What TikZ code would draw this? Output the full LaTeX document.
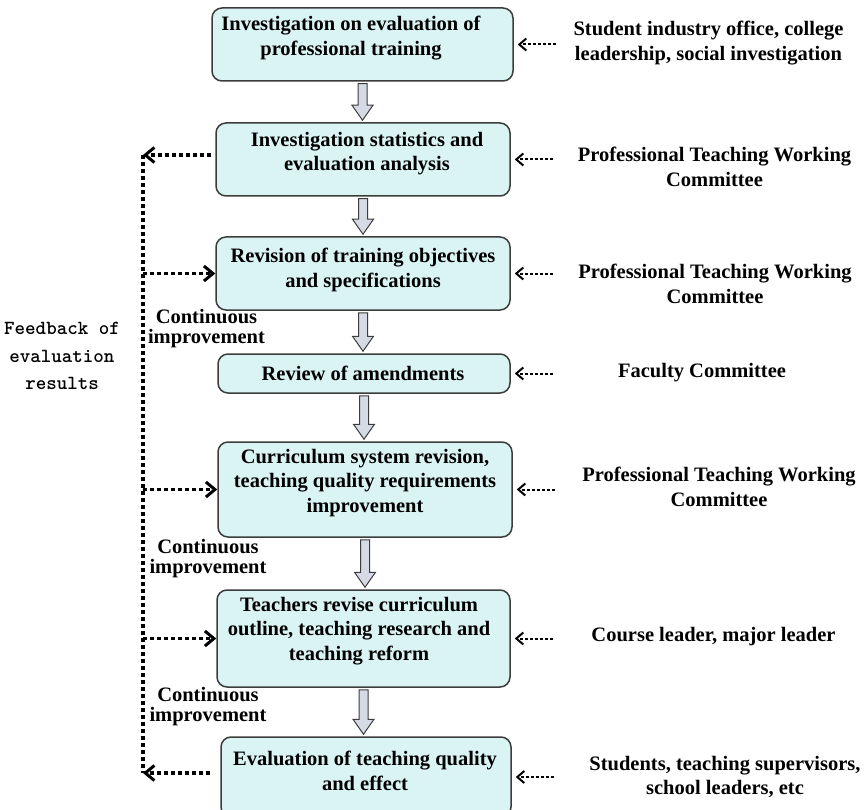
\documentclass[tikz,border=0pt]{standalone}
\usepackage{fontspec}
\setmainfont{Liberation Serif}
\usetikzlibrary{arrows.meta,calc}

\definecolor{boxfill}{RGB}{218,244,244}
\definecolor{boxline}{RGB}{60,60,60}
\definecolor{arrowfill}{RGB}{214,218,228}

\tikzset{
  stage/.style={draw=boxline, fill=boxfill, line width=1.5pt, rounded corners=10pt},
  stagetext/.style={font=\bfseries\fontsize{20.5}{24.5}\selectfont, align=center, inner sep=0pt},
  source/.style={font=\bfseries\fontsize{20.5}{24.5}\selectfont, align=center, inner sep=0pt},
  note/.style={font=\bfseries\fontsize{20.5}{20}\selectfont, align=center, inner sep=0pt},
  fbtext/.style={font=\ttfamily\bfseries\fontsize{20}{27.5}\selectfont, align=center, inner sep=0pt},
  blockarrow/.style={draw=boxline, fill=arrowfill, line width=1pt, line join=miter},
  srcarrow/.style={-{Straight Barb[length=7pt,width=12pt,line width=2pt]}, line width=2pt, dash pattern=on 2.5pt off 2.5pt},
  fbline/.style={line width=4pt, dash pattern=on 4pt off 3pt},
  fbarrow/.style={-{Straight Barb[length=9pt,width=15pt,line width=3pt]}, line width=3.5pt, dash pattern=on 4pt off 3pt},
}

% hollow down arrow between two stages
\newcommand{\stagearrow}[2]{%
  \draw[blockarrow] let \p1=(#1.south), \p2=(#2.north) in
    (\x1-4.5pt,\y1-2pt) -- (\x1-4.5pt,\y2+17pt) -- (\x1-10.5pt,\y2+17pt) -- (\x1,\y2+2pt)
    -- (\x1+10.5pt,\y2+17pt) -- (\x1+4.5pt,\y2+17pt) -- (\x1+4.5pt,\y1-2pt) -- cycle;}

\begin{document}
\begin{tikzpicture}[x=1pt,y=-1pt]
\useasboundingbox (0,0) rectangle (864,810);

% stages
\node[stage, minimum width=301pt, minimum height=73pt] (b1) at (362.5,44.5) {};
\node[stage, minimum width=294pt, minimum height=73pt] (b2) at (363,159.5) {};
\node[stage, minimum width=294pt, minimum height=73pt] (b3) at (363,273.5) {};
\node[stage, minimum width=292pt, minimum height=39pt] (b4) at (364,373.5) {};
\node[stage, minimum width=294pt, minimum height=95pt] (b5) at (365,489.5) {};
\node[stage, minimum width=293pt, minimum height=97pt] (b6) at (363.5,638.5) {};
\node[stage, minimum width=290pt, minimum height=80pt] (b7) at (366,777) {};

\node[stagetext] (t1) at (351,38) {Investigation on evaluation of\\professional training};
\node[stagetext] (t2) at (367,153.5) {Investigation statistics and\\evaluation analysis};
\node[stagetext] (t3) at (363,270) {Revision of training objectives\\and specifications};
\node[stagetext] (t4) at (363,373) {Review of amendments};
\node[stagetext] (t5) at (365,483) {Curriculum system revision,\\teaching quality requirements\\improvement};
\node[stagetext] (t6) at (359,631) {Teachers revise curriculum\\outline, teaching research and\\teaching reform};
\node[stagetext] (t7) at (365,771) {Evaluation of teaching quality\\and effect};

\stagearrow{b1}{b2}
\stagearrow{b2}{b3}
\stagearrow{b3}{b4}
\stagearrow{b4}{b5}
\stagearrow{b5}{b6}
\stagearrow{b6}{b7}

% who takes part in each stage
\node[source] (s1) at (708.5,43) {Student industry office, college\\leadership, social investigation};
\node[source] (s2) at (714.5,167) {Professional Teaching Working\\Committee};
\node[source] (s3) at (715,284) {Professional Teaching Working\\Committee};
\node[source] (s4) at (702,373) {Faculty Committee};
\node[source] (s5) at (719,487) {Professional Teaching Working\\Committee};
\node[source] (s6) at (713.5,637) {Course leader, major leader};
\node[source] (s7) at (725,777) {Students, teaching supervisors,\\school leaders, etc};

\foreach \i in {1,...,7}
  \draw[srcarrow] ([xshift=42pt]b\i.east) -- ([xshift=4pt]b\i.east);

% feedback loop on the left
\coordinate (fbtop) at (143,155);
\coordinate (fbbot) at (143,773);
\draw[fbline] (fbtop) -- (fbbot);
\draw[fbarrow] ([xshift=-4pt]b2.west |- fbtop) -- (fbtop);
\draw[fbarrow] ([xshift=-10pt]b7.west |- fbbot) -- (fbbot);
\draw[fbarrow] (fbtop |- b3.west) -- (b3.west);
\draw[fbarrow] (fbtop |- b5.west) -- (b5.west);
\draw[fbarrow] (fbtop |- b6.west) -- (b6.west);

\node[fbtext] (fb) at (62,356) {Feedback of\\evaluation\\results};
\node[note] (c1) at (206.5,329) {Continuous\\improvement};
\node[note] (c2) at (208,559) {Continuous\\improvement};
\node[note] (c3) at (208,707) {Continuous\\improvement};
\end{tikzpicture}
\end{document}
